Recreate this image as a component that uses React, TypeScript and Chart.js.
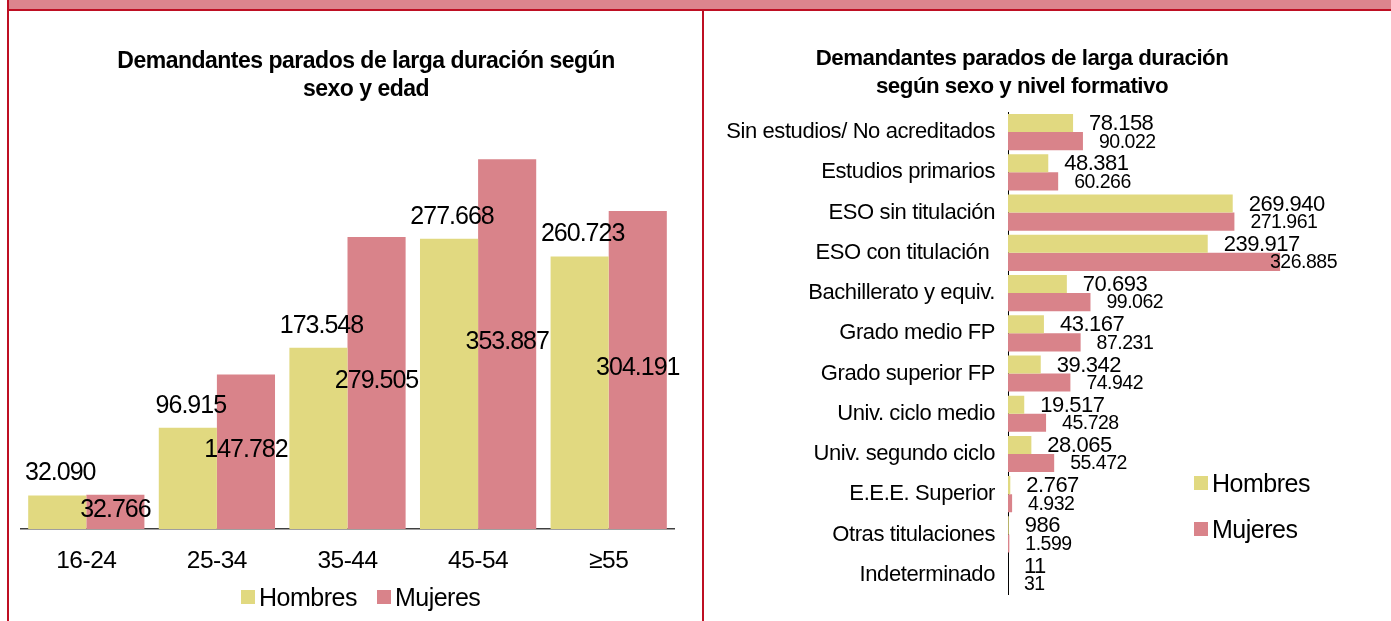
import React, { useEffect, useRef } from "react";
import { Chart, registerables } from "chart.js";
Chart.register(...registerables);

const FONT = "'Liberation Sans', Arial, sans-serif";
const YELLOW = "#E1D980";
const PINK = "#D9838A";
const DARKRED = "#BE0F23";

const seriesNames = ["Hombres", "Mujeres"];

const ageCategories = ["16-24", "25-34", "35-44", "45-54", "≥55"];
const ageHombres = [32090, 96915, 173548, 277668, 260723];
const ageMujeres = [32766, 147782, 279505, 353887, 304191];

const eduCategories = [
  "Sin estudios/ No acreditados",
  "Estudios primarios",
  "ESO sin titulación",
  "ESO con titulación ",
  "Bachillerato y equiv.",
  "Grado medio FP",
  "Grado superior FP",
  "Univ. ciclo medio",
  "Univ. segundo ciclo",
  "E.E.E. Superior",
  "Otras titulaciones",
  "Indeterminado",
];
const eduHombres = [78158, 48381, 269940, 239917, 70693, 43167, 39342, 19517, 28065, 2767, 986, 11];
const eduMujeres = [90022, 60266, 271961, 326885, 99062, 87231, 74942, 45728, 55472, 4932, 1599, 31];

const fmt = (n: number) => String(n).replace(/\B(?=(\d{3})+(?!\d))/g, ".");

const spacingPlugin = (ls: string) => ({
  id: "spacing",
  beforeDraw(chart: any) {
    (chart.ctx as any).letterSpacing = ls;
  },
});

const ageLabelsPlugin = {
  id: "ageLabels",
  afterDatasetsDraw(chart: any) {
    const ctx = chart.ctx;
    ctx.save();
    ctx.letterSpacing = "-1px";
    ctx.fillStyle = "#000";
    ctx.textAlign = "center";
    ctx.textBaseline = "middle";
    ctx.font = `25px ${FONT}`;
    const m1 = chart.getDatasetMeta(1);
    m1.data.forEach((bar: any, i: number) => {
      ctx.fillText(fmt(chart.data.datasets[1].data[i]), bar.x, (bar.y + bar.base) / 2 - 2);
    });
    const m0 = chart.getDatasetMeta(0);
    m0.data.forEach((bar: any, i: number) => {
      ctx.fillText(fmt(chart.data.datasets[0].data[i]), bar.x + 3, bar.y - 22);
    });
    ctx.restore();
  },
};

const eduLabelsPlugin = {
  id: "eduLabels",
  afterDatasetsDraw(chart: any) {
    const ctx = chart.ctx;
    const limit = chart.chartArea.right - 4;
    ctx.save();
    ctx.letterSpacing = "-0.5px";
    ctx.fillStyle = "#000";
    ctx.textAlign = "left";
    ctx.textBaseline = "middle";
    [0, 1].forEach((d) => {
      ctx.font = d === 0 ? `22px ${FONT}` : `19.5px ${FONT}`;
      const meta = chart.getDatasetMeta(d);
      meta.data.forEach((bar: any, i: number) => {
        const txt = fmt(chart.data.datasets[d].data[i]);
        const w = ctx.measureText(txt).width;
        let x = bar.x + 16;
        if (x + w > limit) x = limit - w;
        ctx.fillText(txt, x, bar.y + 1);
      });
    });
    ctx.restore();
  },
};

function AgeChart() {
  const ref = useRef<HTMLCanvasElement>(null);
  useEffect(() => {
    const chart = new Chart(ref.current as HTMLCanvasElement, {
      type: "bar",
      data: {
        labels: ageCategories,
        datasets: [
          { label: seriesNames[0], data: ageHombres, backgroundColor: YELLOW, categoryPercentage: 0.89, barPercentage: 1 },
          { label: seriesNames[1], data: ageMujeres, backgroundColor: PINK, categoryPercentage: 0.89, barPercentage: 1 },
        ],
      },
      options: {
        responsive: false,
        animation: false,
        layout: { padding: { left: 12, right: 28, top: 100, bottom: 0 } },
        plugins: { legend: { display: false }, title: { display: false }, tooltip: { enabled: false } },
        scales: {
          x: {
            grid: { display: false, drawTicks: false },
            border: { display: true, color: "#404040", width: 1.5 },
            ticks: { color: "#000", font: { family: FONT, size: 24.5 }, padding: 18 },
            afterFit: (s: any) => {
              s.height = 92;
            },
          },
          y: { display: false, min: 0, max: 400000 },
        },
      } as any,
      plugins: [spacingPlugin("-0.5px"), ageLabelsPlugin],
    });
    return () => chart.destroy();
  }, []);
  return <canvas ref={ref} width={693} height={610} style={{ position: "absolute", left: 9, top: 11 }} />;
}

function EduChart() {
  const ref = useRef<HTMLCanvasElement>(null);
  useEffect(() => {
    const chart = new Chart(ref.current as HTMLCanvasElement, {
      type: "bar",
      data: {
        labels: eduCategories,
        datasets: [
          { label: seriesNames[0], data: eduHombres, backgroundColor: YELLOW, categoryPercentage: 0.9, barPercentage: 1 },
          { label: seriesNames[1], data: eduMujeres, backgroundColor: PINK, categoryPercentage: 0.9, barPercentage: 1 },
        ],
      },
      options: {
        indexAxis: "y",
        responsive: false,
        animation: false,
        layout: { padding: { left: 0, right: 50, top: 101, bottom: 17 } },
        plugins: { legend: { display: false }, title: { display: false }, tooltip: { enabled: false } },
        scales: {
          y: {
            grid: { display: false, drawTicks: false },
            border: { display: true, color: "#000", width: 1 },
            ticks: { color: "#000", font: { family: FONT, size: 22 }, padding: 13 },
            afterFit: (s: any) => {
              s.width = 304;
            },
          },
          x: { display: false, min: 0, max: 400000 },
        },
      } as any,
      plugins: [spacingPlugin("-0.4px"), eduLabelsPlugin],
    });
    return () => chart.destroy();
  }, []);
  return <canvas ref={ref} width={687} height={610} style={{ position: "absolute", left: 704, top: 11 }} />;
}

const Box = ({ color }: { color: string }) => (
  <span style={{ display: "inline-block", width: 14, height: 14, background: color, marginRight: 4 }} />
);

export default function App() {
  const titleStyle: React.CSSProperties = {
    position: "absolute",
    fontFamily: FONT,
    fontWeight: "bold",
    lineHeight: "28px",
    letterSpacing: "-0.5px",
    textAlign: "center",
    color: "#000",
    whiteSpace: "nowrap",
  };
  const legendText: React.CSSProperties = { fontFamily: FONT, fontSize: 25, letterSpacing: "-0.5px", color: "#000" };
  return (
    <div style={{ position: "fixed", left: 0, top: 0, width: 1391, height: 621, background: "#fff", overflow: "hidden" }}>
      <div style={{ position: "absolute", left: 9, top: 0, width: 1382, height: 9, background: "#DC858D" }} />
      <div style={{ position: "absolute", left: 7, top: 9, width: 1384, height: 2, background: DARKRED }} />
      <div style={{ position: "absolute", left: 7, top: 0, width: 2, height: 621, background: DARKRED }} />
      <div style={{ position: "absolute", left: 702, top: 11, width: 2, height: 610, background: DARKRED }} />
      <AgeChart />
      <EduChart />
      <div style={{ ...titleStyle, fontSize: 23, left: 366, top: 46, transform: "translateX(-50%)" }}>
        Demandantes parados de larga duración según
        <br />
        sexo y edad
      </div>
      <div style={{ ...titleStyle, fontSize: 22.3, left: 1022, top: 44, transform: "translateX(-50%)" }}>
        Demandantes parados de larga duración
        <br />
        según sexo y nivel formativo
      </div>
      <div style={{ position: "absolute", left: 241, top: 584, display: "flex", alignItems: "center", height: 26 }}>
        <Box color={YELLOW} />
        <span style={legendText}>{seriesNames[0]}</span>
        <span style={{ width: 20 }} />
        <Box color={PINK} />
        <span style={legendText}>{seriesNames[1]}</span>
      </div>
      <div style={{ position: "absolute", left: 1194, top: 470, display: "flex", alignItems: "center", height: 26 }}>
        <Box color={YELLOW} />
        <span style={legendText}>{seriesNames[0]}</span>
      </div>
      <div style={{ position: "absolute", left: 1194, top: 516, display: "flex", alignItems: "center", height: 26 }}>
        <Box color={PINK} />
        <span style={legendText}>{seriesNames[1]}</span>
      </div>
    </div>
  );
}
